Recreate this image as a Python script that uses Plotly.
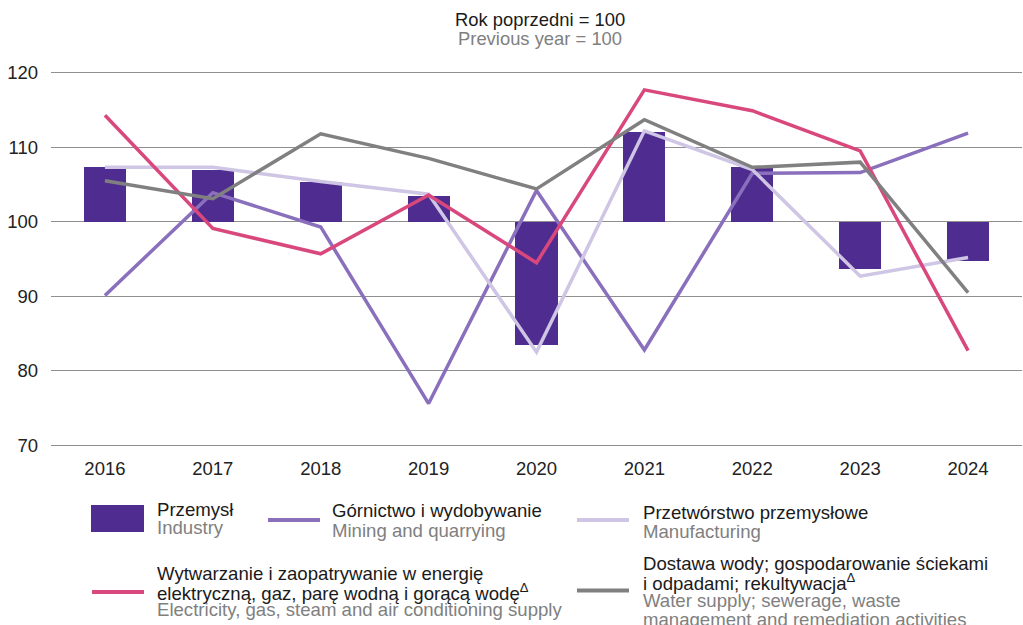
import plotly.graph_objects as go

years = [2016, 2017, 2018, 2019, 2020, 2021, 2022, 2023, 2024]
industry = [107.3, 107.0, 105.3, 103.5, 83.4, 112.1, 107.4, 93.7, 94.7]
mining = [90.1, 103.9, 99.3, 75.6, 104.2, 82.8, 106.5, 106.6, 111.9]
manufacturing = [107.3, 107.3, 105.4, 103.7, 82.5, 112.2, 107.0, 92.7, 95.2]
electricity = [114.3, 99.1, 95.7, 103.6, 94.5, 117.7, 114.9, 109.5, 82.7]
water = [105.5, 103.1, 111.8, 108.5, 104.4, 113.7, 107.3, 108.0, 90.5]
y_ticks = [70, 80, 90, 100, 110, 120]

C_BAR = "#4f2d90"
C_MIN = "#8a6fbd"
C_MAN = "#cfc5e4"
C_ELE = "#d9487d"
C_WAT = "#808080"
DARK = "#1a1a1a"
GREY = "#808080"
FONT = "Liberation Sans, Arial, sans-serif"

W, H = 1023, 625
ML, MR, MT, MB = 51, 1, 69, 176
PW = W - ML - MR
PH = H - MT - MB


def px(x):
    return (x - ML) / PW


def py(y):
    return (H - MB - y) / PH


fig = go.Figure()
fig.add_trace(go.Bar(x=years, y=[v - 100 for v in industry], base=100,
                     marker=dict(color=C_BAR, line=dict(width=0)), width=0.39,
                     name="Przemysł"))
for vals, col, nm in [(mining, C_MIN, "Górnictwo"), (manufacturing, C_MAN, "Przetwórstwo"),
                      (electricity, C_ELE, "Wytwarzanie"), (water, C_WAT, "Dostawa")]:
    fig.add_trace(go.Scatter(x=years, y=vals, mode="lines", name=nm,
                             line=dict(color=col, width=3.5)))

shapes = []
annotations = []
LS = 18.6


def text(x, y, s, color=DARK):
    annotations.append(dict(x=px(x), y=py(y), xref="paper", yref="paper", text=s,
                            showarrow=False, xanchor="left", yanchor="middle",
                            font=dict(size=LS, color=color, family=FONT)))


# legend swatches
shapes.append(dict(type="rect", xref="paper", yref="paper", x0=px(91), x1=px(144),
                   y0=py(532), y1=py(505), fillcolor=C_BAR, line=dict(width=0)))
for x0, y0, col in [(268, 520, C_MIN), (577, 520, C_MAN), (92, 592, C_ELE), (577, 590.5, C_WAT)]:
    shapes.append(dict(type="line", xref="paper", yref="paper", x0=px(x0), x1=px(x0 + 52),
                       y0=py(y0), y1=py(y0), line=dict(color=col, width=4)))

text(155, 509, "Przemysł")
text(155, 527, "Industry", GREY)
text(330, 510, "Górnictwo i wydobywanie")
text(330, 530, "Mining and quarrying", GREY)
text(641, 512, "Przetwórstwo przemysłowe")
text(641, 531, "Manufacturing", GREY)
text(155, 573, "Wytwarzanie i zaopatrywanie w energię")
text(155, 591.5, "elektryczną, gaz, parę wodną i gorącą wodę<sup>Δ</sup>")
text(155, 609.5, "Electricity, gas, steam and air conditioning supply", GREY)
text(641, 563.5, "Dostawa wody; gospodarowanie ściekami")
text(641, 582, "i odpadami; rekultywacja<sup>Δ</sup>")
text(641, 600.5, "Water supply; sewerage, waste", GREY)
text(641, 619, "management and remediation activities", GREY)

# title
for yy, s, col in [(20, "Rok poprzedni = 100", DARK), (38, "Previous year = 100", GREY)]:
    annotations.append(dict(x=px(540), y=py(yy), xref="paper", yref="paper", text=s,
                            showarrow=False, xanchor="center", yanchor="middle",
                            font=dict(size=18.4, color=col, family=FONT)))

fig.update_layout(
    width=W, height=H,
    margin=dict(l=ML, r=MR, t=MT, b=MB, pad=0),
    paper_bgcolor="white", plot_bgcolor="white",
    showlegend=False,
    bargap=0,
    font=dict(family=FONT, size=18.5, color="#222222"),
    xaxis=dict(range=[2015.5, 2024.5], tickvals=years, ticktext=[str(y) for y in years],
               showgrid=False, zeroline=False, showline=False, ticks="",
               ticklabelstandoff=6, tickfont=dict(size=18.5, color="#222222")),
    yaxis=dict(range=[69.5, 120.5], tickvals=y_ticks, showgrid=True, gridcolor="#8f8f8f",
               gridwidth=1, zeroline=False, showline=False, ticks="",
               ticklabelstandoff=12, tickfont=dict(size=18.5, color="#222222")),
    shapes=shapes,
    annotations=annotations,
)

fig.write_html("out.html", config={"displayModeBar": False},
               post_script="document.body.style.margin='0';")
